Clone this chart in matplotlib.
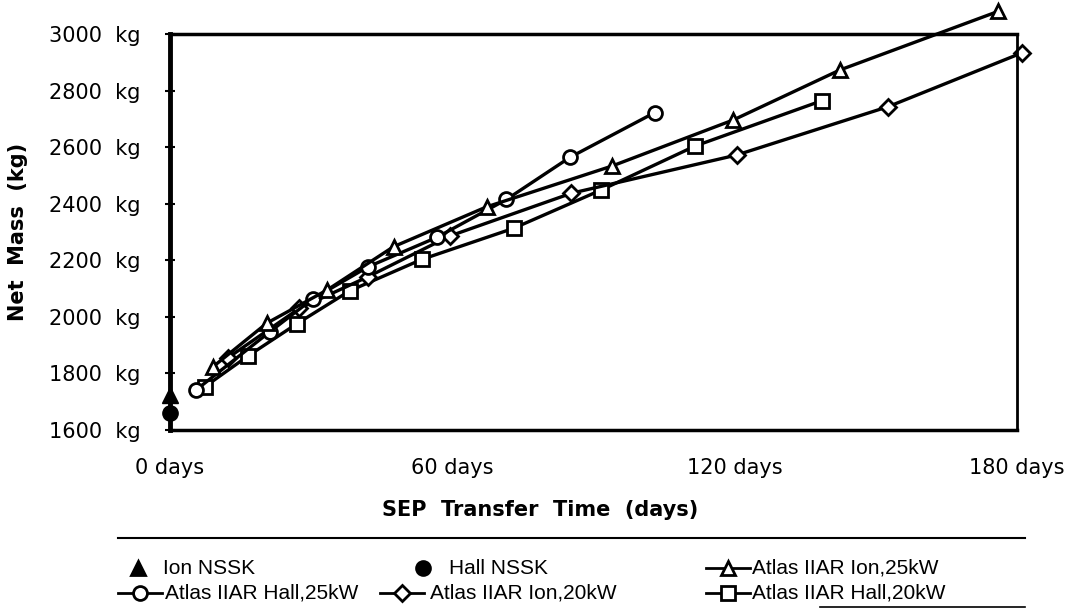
import matplotlib
matplotlib.use("Agg")
import matplotlib.pyplot as plt
from matplotlib.lines import Line2D

# data (days, kg)
ion_nssk_days = [0]
ion_nssk_kg = [1724]
hall_nssk_days = [0]
hall_nssk_kg = [1660]

ion25_days = [9.1, 20.6, 33.4, 47.5, 67.3, 93.9, 119.7, 142.4, 176.0]
ion25_kg = [1823, 1978, 2095, 2248, 2389, 2533, 2696, 2873, 3080]

hall25_days = [5.5, 21.2, 30.3, 42.1, 56.7, 71.5, 85.0, 103.0]
hall25_kg = [1741, 1947, 2063, 2177, 2281, 2415, 2564, 2722]

ion20_days = [12.3, 27.5, 42.1, 59.5, 85.3, 120.4, 152.6, 181.0]
ion20_kg = [1855, 2030, 2142, 2286, 2437, 2572, 2743, 2933]

hall20_days = [7.4, 16.6, 27.0, 38.2, 53.5, 73.0, 91.7, 111.6, 138.5]
hall20_kg = [1753, 1862, 1976, 2092, 2203, 2313, 2449, 2604, 2764]

xticks = [0, 60, 120, 180]
xtick_labels = ["0 days", "60 days", "120 days", "180 days"]
yticks = [1600, 1800, 2000, 2200, 2400, 2600, 2800, 3000]
ytick_labels = [f"{v}  kg" for v in yticks]

W, H = 1080, 611
fig = plt.figure(figsize=(W / 100, H / 100), dpi=100)
ax = fig.add_axes([170 / W, 1 - 430 / H, (1017 - 170) / W, (430 - 34) / H])

line_kw = dict(color="black", lw=2.4, markersize=10, markerfacecolor="white",
               markeredgecolor="black", markeredgewidth=2, clip_on=False)
ax.plot(hall20_days, hall20_kg, marker="s", **line_kw)
ax.plot(ion20_days, ion20_kg, marker="D", **{**line_kw, "markersize": 8})
ax.plot(hall25_days, hall25_kg, marker="o", **line_kw)
ax.plot(ion25_days, ion25_kg, marker="^", **line_kw)
ax.plot(ion_nssk_days, ion_nssk_kg, "^", color="black", markersize=11, clip_on=False)
ax.plot(hall_nssk_days, hall_nssk_kg, "o", color="black", markersize=11, clip_on=False)

ax.set_xlim(0, 180)
ax.set_ylim(1600, 3000)
ax.set_xticks(xticks)
ax.set_xticklabels(xtick_labels)
ax.set_yticks(yticks)
ax.set_yticklabels(ytick_labels)
ax.tick_params(axis="x", length=0, pad=20, labelsize=15)
ax.tick_params(axis="y", direction="inout", length=7, width=1.5, pad=18, labelsize=15)
ax.spines["left"].set_linewidth(3.5)
ax.spines["top"].set_linewidth(2.5)
ax.spines["right"].set_linewidth(2)
ax.spines["bottom"].set_linewidth(2.5)

fig.text(18 / W, 1 - 232 / H, "Net  Mass  (kg)", rotation=90, fontsize=15,
         fontweight="bold", ha="center", va="center")
fig.text(540 / W, 1 - 510 / H, "SEP  Transfer  Time  (days)", fontsize=15,
         fontweight="bold", ha="center", va="center")

# legend box drawn by hand to follow the original layout
fig.add_artist(Line2D([118 / W, 1025 / W], [1 - 538 / H, 1 - 538 / H], color="black", lw=1.5))
fig.add_artist(Line2D([820 / W, 1025 / W], [1 - 607 / H, 1 - 607 / H], color="black", lw=1.2))

leg_font = dict(fontsize=15, family=["Liberation Sans Narrow", "Liberation Sans"], va="center")
entries = [
    (138, 568, "^", True, False, "Ion NSSK", 163),
    (423, 568, "o", True, False, "Hall NSSK", 449),
    (728, 568, "^", False, True, "Atlas IIAR Ion,25kW", 752),
    (140, 593, "o", False, True, "Atlas IIAR Hall,25kW", 165),
    (402, 593, "D", False, True, "Atlas IIAR Ion,20kW", 430),
    (728, 593, "s", False, True, "Atlas IIAR Hall,20kW", 752),
]
for mx, my, mk, filled, with_line, label, tx in entries:
    yf = 1 - my / H
    if with_line:
        fig.add_artist(Line2D([(mx - 22) / W, (mx + 22) / W], [yf, yf], color="black", lw=2))
    fig.add_artist(Line2D([mx / W], [yf], marker=mk, color="black",
                          markersize=(8 if mk == "D" else 10),
                          markerfacecolor=("black" if filled else "white"),
                          markeredgewidth=2))
    fig.text(tx / W, yf, label, **leg_font)

fig.savefig("out.png", dpi=100)
